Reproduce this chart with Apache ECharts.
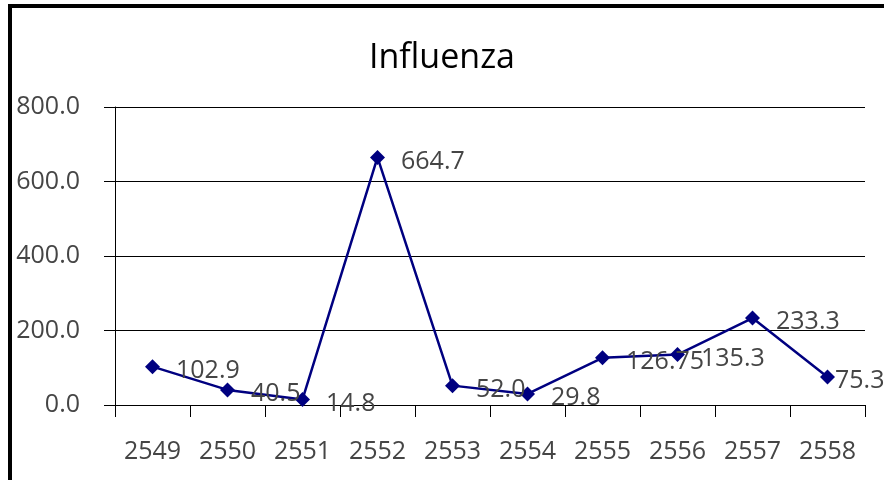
<!DOCTYPE html>
<html lang="en">
<head>
    <meta charset="UTF-8">
    <title>Influenza</title>
    <script src="https://cdn.jsdelivr.net/npm/echarts@6/dist/echarts.min.js"></script>
    <style>
        * { padding: 0; margin: 0; }
        body { width: 884px; height: 480px; background: #fff; position: relative; overflow: hidden; }
        #chart { position: absolute; left: 0; top: 0; width: 884px; height: 480px; }
        #frame { position: absolute; left: 8px; top: 4px; width: 900px; height: 500px;
                 border-left: 4px solid #000; border-top: 4px solid #000; pointer-events: none; }
    </style>
</head>
<body>
<div id="chart"></div>
<div id="frame"></div>
<script>
    var years = ['2549', '2550', '2551', '2552', '2553', '2554', '2555', '2556', '2557', '2558'];
    var cases = [102.9, 40.5, 14.8, 664.7, 52.0, 29.8, 126.75, 135.3, 233.3, 75.3];
    var yTicks = [0, 200, 400, 600, 800];

    var font = 'Open Sans';
    var textGray = '#454545';

    // last label sits tight against its marker so it fits inside the chart
    var seriesData = cases.map(function (v, i) {
        if (i === cases.length - 1) {
            return { value: v, label: { distance: 0 } };
        }
        return v;
    });

    var chart = echarts.init(document.getElementById('chart'));
    var option = {
        animation: false,
        title: {
            text: 'Influenza',
            left: 'center',
            top: 36,
            textStyle: { fontFamily: font, fontSize: 34, fontWeight: 'normal', color: '#000' }
        },
        grid: { left: 115, right: 19, top: 107, bottom: 75 },
        xAxis: {
            type: 'category',
            data: years,
            boundaryGap: true,
            axisLine: { lineStyle: { color: '#000', width: 1 } },
            axisTick: { show: true, length: 12, interval: 0, lineStyle: { color: '#000' } },
            axisLabel: { interval: 0, margin: 34, fontFamily: font, fontSize: 25, color: textGray }
        },
        yAxis: {
            type: 'value',
            min: yTicks[0],
            max: yTicks[yTicks.length - 1],
            interval: 200,
            axisLine: { show: true, lineStyle: { color: '#000', width: 1 } },
            axisTick: { show: true, length: 11, lineStyle: { color: '#000' } },
            axisLabel: { margin: 35, fontFamily: font, fontSize: 25, color: textGray,
                formatter: function (v) { return v.toFixed(1); } },
            splitLine: { show: true, lineStyle: { color: '#000', width: 1 } }
        },
        series: [{
            name: 'Influenza',
            type: 'line',
            data: seriesData,
            symbol: 'diamond',
            symbolSize: 15,
            lineStyle: { color: '#000080', width: 2.5 },
            itemStyle: { color: '#000080' },
            label: {
                show: true,
                position: 'right',
                distance: 16,
                offset: [0, 4],
                fontFamily: font,
                fontSize: 25,
                color: textGray,
                formatter: function (p) {
                    var v = p.value;
                    return Number.isInteger(Math.round(v * 100) / 10) ? v.toFixed(1) : String(v);
                }
            }
        }]
    };
    chart.setOption(option);
</script>
</body>
</html>
